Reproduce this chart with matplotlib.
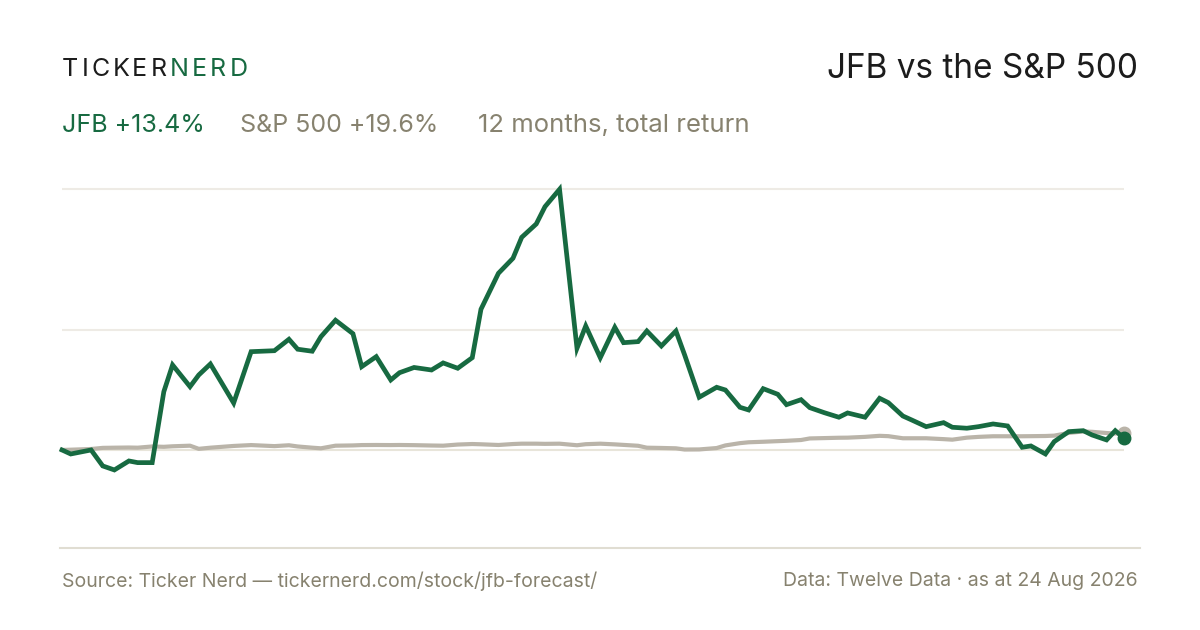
import matplotlib
matplotlib.use("Agg")
import matplotlib.pyplot as plt
from matplotlib.lines import Line2D

# days since start of the 12-month window
days = [0, 3, 10, 14, 18, 23, 26, 31, 35, 38, 44, 47, 51, 59, 65, 73, 78, 81, 86, 89,
        94, 100, 103, 108, 113, 116, 121, 127, 131, 136, 141, 144, 150, 155, 158, 163, 166, 171, 177, 180,
        185, 190, 193, 198, 201, 206, 211, 214, 219, 225, 228, 233, 236, 241, 246, 249, 254, 257, 262, 267,
        270, 276, 281, 284, 289, 292, 297, 303, 306, 311, 315, 320, 325, 330, 333, 338, 341, 346, 351, 354,
        359, 362, 365]

# cumulative total return, %
jfb = [0, -4.6, 0, -18.3, -22.9, -12.6, -14.5, -14.5, 66.8, 97.4, 72.5, 85.9, 98.5, 53.8, 112.6, 113.7, 126.8, 115.4, 113.1, 129.8,
       148.6, 133.2, 95.4, 106.9, 80.2, 88.5, 94.5, 91.6, 99.7, 93.6, 105.7, 161.2, 202.4, 219.6, 243.6, 258.9, 278.7, 298.6, 116.5, 142.0,
       105.7, 140.5, 122.9, 124.1, 136.3, 119.1, 136.3, 108.8, 60.4, 71.8, 68.7, 48.9, 45.8, 70.2, 63.8, 51.9, 57.6, 48.5, 42.7, 37.5,
       42.4, 37.5, 59.2, 54.2, 38.9, 34.4, 26.7, 31.3, 26.0, 24.9, 26.7, 29.8, 27.5, 3.1, 4.6, -4.6, 9.5, 21.0, 22.1, 17.2,
       11.5, 22.1, 13.4]

spx = [0, 0.3, 1.1, 2.4, 2.6, 2.8, 2.6, 4.0, 3.6, 4.2, 4.9, 1.3, 2.6, 4.6, 5.6, 4.4, 5.4, 4.0, 2.6, 1.9,
       4.9, 5.2, 5.6, 5.7, 5.6, 5.7, 5.5, 5.1, 4.9, 6.2, 6.8, 6.5, 5.7, 6.8, 7.2, 7.2, 7.0, 7.2, 5.4, 6.6,
       7.2, 6.4, 5.8, 4.8, 2.6, 2.3, 1.9, 0.5, 0.6, 2.2, 5.2, 7.8, 8.8, 9.4, 10.1, 10.5, 11.4, 13.2, 13.6, 14.0,
       14.1, 15.0, 16.2, 15.8, 13.4, 13.4, 13.4, 12.4, 11.8, 14.1, 15.0, 15.7, 15.7, 15.7, 15.8, 16.0, 16.4, 19.5, 21.2, 20.8,
       19.4, 18.8, 19.6]

GREEN = "#176a41"
SPX_GREY = "#bab4a9"
TEXT_GREY = "#87826f"
DARK = "#1c1c1c"

plt.rcParams["font.family"] = ["Inter", "DejaVu Sans"]

W, H = 1200, 630
fig = plt.figure(figsize=(12, 6.3), dpi=100)
fig.patch.set_facecolor("white")

ax = fig.add_axes([62 / W, (H - 548) / H, (1124 - 62) / W, (548 - 170) / H])
ax.set_xlim(0, 365)
ax.set_ylim(-112.3, 320.7)
ax.axis("off")

# gridlines at the peak, the mid-range and zero
top = max(jfb)
mid = (max(jfb) + min(jfb)) / 2
for v in (top, mid):
    ax.axhline(v, color="#eeebe5", lw=1.5, zorder=1)
ax.axhline(0, color="#e8e5da", lw=1.5, zorder=1)

ax.plot(days, spx, color=SPX_GREY, lw=3.0, solid_joinstyle="round", zorder=2, clip_on=False)
ax.plot(days[-1], spx[-1], "o", color=SPX_GREY, ms=9, zorder=2, clip_on=False)
ax.plot(days, jfb, color=GREEN, lw=3.4, solid_joinstyle="miter", zorder=3, clip_on=False)
ax.plot(days[-1], jfb[-1], "o", color=GREEN, ms=9, zorder=4, clip_on=False)

# bottom rule
fig.add_artist(Line2D([60 / W, 1140 / W], [(H - 548) / H] * 2, color="#e0ddd2", lw=1.5))


def spaced(x, y, s, color, size, tracking):
    r = fig.canvas.get_renderer()
    for ch in s:
        t = fig.text(x / W, 1 - y / H, ch, color=color, fontsize=size, va="center", ha="left")
        x += t.get_window_extent(r).width + tracking
    return x


spaced(62, 70, "TICKER", DARK, 18, 3.0)
spaced(170, 70, "NERD", GREEN, 18, 3.0)

fig.text(1138 / W, 1 - 69 / H, "JFB vs the S&P 500", color=DARK, fontsize=24,
         ha="right", va="center")

fig.text(62 / W, 1 - 126 / H, "JFB +13.4%", color=GREEN, fontsize=18, va="center")
fig.text(240 / W, 1 - 126 / H, "S&P 500 +19.6%", color=TEXT_GREY, fontsize=18, va="center")
fig.text(478 / W, 1 - 126 / H, "12 months, total return", color=TEXT_GREY, fontsize=18.5, va="center")

fig.text(62 / W, 1 - 581 / H, "Source: Ticker Nerd \u2014 tickernerd.com/stock/jfb-forecast/",
         color=TEXT_GREY, fontsize=14, va="center")
fig.text(1138 / W, 1 - 581 / H, "Data: Twelve Data \u00b7 as at 24 Aug 2026",
         color=TEXT_GREY, fontsize=14, va="center", ha="right")

fig.savefig("out.png", dpi=100, facecolor="white")
